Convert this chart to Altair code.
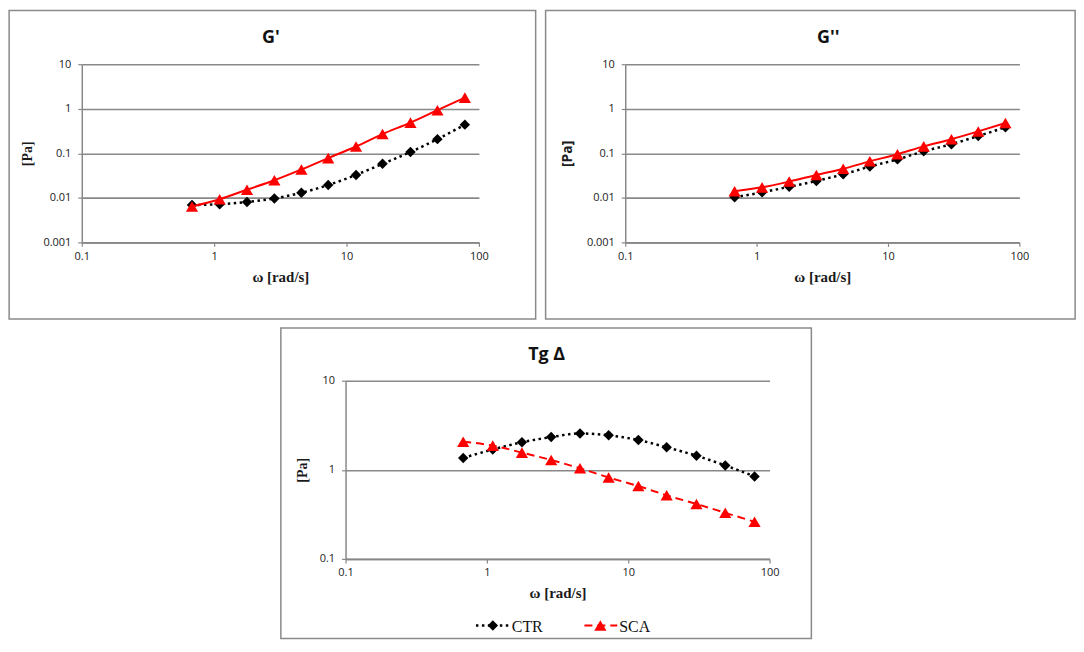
import altair as alt
import pandas as pd

# ---- data ----
omega = [0.68, 1.1, 1.77, 2.85, 4.56, 7.27, 11.8, 18.7, 30.4, 48.6, 78.3]
series = ["CTR", "SCA"]

gp_ctr = [0.0069, 0.0072, 0.0081, 0.0097, 0.013, 0.0194, 0.0327, 0.058, 0.107, 0.208, 0.44]
gp_sca = [0.0064, 0.0093, 0.0152, 0.0248, 0.0433, 0.078, 0.142, 0.27, 0.489, 0.93, 1.78]

gpp_ctr = [0.0103, 0.0133, 0.0177, 0.024, 0.0337, 0.0504, 0.073, 0.111, 0.160, 0.244, 0.385]
gpp_sca = [0.014, 0.0172, 0.0232, 0.0326, 0.0449, 0.066, 0.0955, 0.143, 0.207, 0.31, 0.48]

tg_ctr = [1.36, 1.69, 2.04, 2.33, 2.56, 2.44, 2.16, 1.79, 1.44, 1.12, 0.843]
tg_sca = [2.07, 1.87, 1.56, 1.29, 1.04, 0.82, 0.657, 0.517, 0.414, 0.329, 0.261]

x_ticks = [0.1, 1, 10, 100]
y_ticks_g = [0.001, 0.01, 0.1, 1, 10]
y_ticks_tg = [0.1, 1, 10]

GRID = "#888888"
RED = "#ff0000"
LABEL_FONT = "Open Sans"
SERIF = "Liberation Serif"
DIAMOND = 110
TRIANGLE = 150


def panel(ctr, sca, W, H, ydom, yvals, title, title_x, frame, ytitle_x,
          ytitle_font, ytitle_weight, sca_dash, legend=False):
    df_c = pd.DataFrame({"omega": omega, "value": ctr, "series": series[0]})
    df_s = pd.DataFrame({"omega": omega, "value": sca, "series": series[1]})

    xenc = alt.X("omega:Q",
                 scale=alt.Scale(type="log", domain=[0.1, 100], nice=False),
                 axis=alt.Axis(values=x_ticks, format="~g", grid=False,
                               labelFlush=False, labelOverlap=False,
                               domainColor=GRID, domainWidth=1.5,
                               tickColor=GRID, tickSize=4, tickWidth=1.2,
                               labelFont=LABEL_FONT, labelFontSize=11,
                               labelColor="#1a1a1a", labelPadding=4,
                               title="ω [rad/s]", titleFont=SERIF,
                               titleFontSize=15, titleFontWeight="bold",
                               titleColor="#1a1a1a", titleY=39,
                               titleBaseline="alphabetic"))
    yenc = alt.Y("value:Q",
                 scale=alt.Scale(type="log", domain=ydom, nice=False),
                 axis=alt.Axis(values=yvals, format="~g", grid=True,
                               gridColor=GRID, gridWidth=1.6,
                               domainColor=GRID, domainWidth=1.5,
                               tickColor=GRID, tickSize=4, tickWidth=1.2,
                               labelFont=LABEL_FONT, labelFontSize=11,
                               labelColor="#1a1a1a", labelPadding=7,
                               labelOverlap=False, labelFlush=False,
                               title="[Pa]", titleFont=ytitle_font,
                               titleFontSize=14, titleFontWeight=ytitle_weight,
                               titleColor="#1a1a1a", titleAngle=270,
                               titleX=ytitle_x, titleY=H / 2,
                               titleAlign="center", titleBaseline="middle"))

    one = alt.Data(values=[{}])
    fl, fr, ft, fb = frame
    frame_rect = alt.Chart(one).mark_rect(
        fill="transparent", stroke="#8a8a8a", strokeWidth=1.5
    ).encode(x=alt.value(fl), x2=alt.value(fr), y=alt.value(ft), y2=alt.value(fb))

    title_txt = alt.Chart(one).mark_text(
        text=title, font="Open Sans", fontSize=18, fontWeight="bold",
        align="center", baseline="alphabetic", color="#111111"
    ).encode(x=alt.value(title_x), y=alt.value(-21))

    line_c = alt.Chart(df_c).mark_line(
        color="black", strokeWidth=2.5, strokeDash=[2.5, 3.5], interpolate="monotone"
    ).encode(x=xenc, y=yenc)
    pts_c = alt.Chart(df_c).mark_point(
        shape="diamond", filled=True, size=DIAMOND, color="black", opacity=1
    ).encode(x="omega:Q", y="value:Q")
    sca_kw = dict(color=RED, strokeWidth=2, interpolate="monotone")
    if sca_dash:
        sca_kw["strokeDash"] = sca_dash
    line_s = alt.Chart(df_s).mark_line(**sca_kw).encode(x="omega:Q", y="value:Q")
    pts_s = alt.Chart(df_s).mark_point(
        shape="triangle-up", filled=True, size=TRIANGLE, color=RED, opacity=1
    ).encode(x="omega:Q", y="value:Q")

    layers = [frame_rect, line_c, pts_c, line_s, pts_s, title_txt]

    if legend:
        ly = 246
        d_c = alt.Data(values=[{"series": series[0]}])
        d_s = alt.Data(values=[{"series": series[1]}])
        layers += [
            alt.Chart(d_c).mark_rule(color="black", strokeWidth=2.5, strokeDash=[2.5, 3.5])
            .encode(x=alt.value(131), x2=alt.value(165), y=alt.value(ly)),
            alt.Chart(d_c).mark_point(shape="diamond", filled=True, size=DIAMOND,
                                      color="black", opacity=1)
            .encode(x=alt.value(148), y=alt.value(ly)),
            alt.Chart(d_c).mark_text(font=SERIF, fontSize=16, align="left",
                                     baseline="middle", color="#111111")
            .encode(text="series:N", x=alt.value(167), y=alt.value(ly + 1)),
            alt.Chart(d_s).mark_rule(color=RED, strokeWidth=2, strokeDash=[8, 5])
            .encode(x=alt.value(240), x2=alt.value(273), y=alt.value(ly)),
            alt.Chart(d_s).mark_point(shape="triangle-up", filled=True, size=TRIANGLE,
                                      color=RED, opacity=1)
            .encode(x=alt.value(256), y=alt.value(ly)),
            alt.Chart(d_s).mark_text(font=SERIF, fontSize=16, align="left",
                                     baseline="middle", color="#111111")
            .encode(text="series:N", x=alt.value(275), y=alt.value(ly + 1)),
        ]

    return alt.layer(*layers).properties(width=W, height=H)


p1 = panel(gp_ctr, gp_sca, 399, 179, [0.001, 10], y_ticks_g, "G'", 190,
           (-73, 399 + 57, -54, 179 + 77), -55, SERIF, "bold", None)
p2 = panel(gpp_ctr, gpp_sca, 396, 179, [0.001, 10], y_ticks_g, "G''", 204,
           (-80, 396 + 56, -54, 179 + 77), -58, "Open Sans", "bold", None)
p3 = panel(tg_ctr, tg_sca, 426, 179, [0.1, 10], y_ticks_tg, "Tg Δ", 202,
           (-65, 426 + 42, -53, 179 + 80), -43, SERIF, "bold", [8, 5], legend=True)

chart = alt.vconcat(
    alt.hconcat(p1, p2, spacing=8),
    p3,
    spacing=7,
    center=True,
).configure_view(strokeWidth=0).properties(padding=0, background="white")

chart.save("out.html", embed_options={"renderer": "svg", "actions": False})
